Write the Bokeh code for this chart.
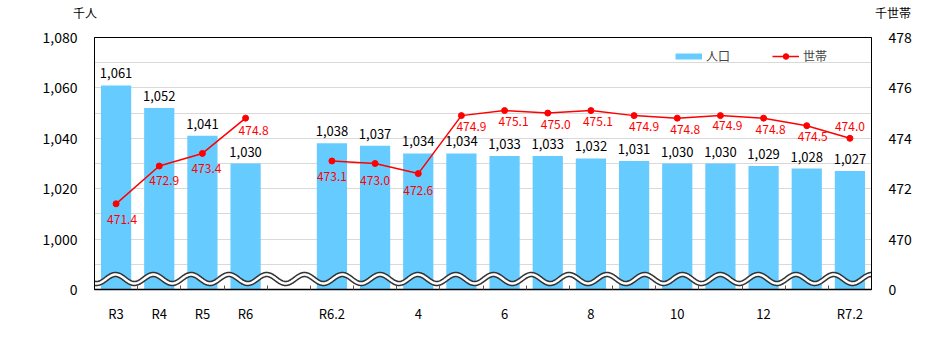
import numpy as np
from bokeh.plotting import figure
from bokeh.layouts import column
from bokeh.core.properties import value
from bokeh.models import (Range1d, LinearAxis, FixedTicker, ColumnDataSource,
                          LabelSet, Legend, LegendItem, Div)
from bokeh.embed import file_html
from bokeh.resources import INLINE

# ---- data ----
tick_labels = ["R3", "R4", "R5", "R6", "", "R6.2", "", "4", "", "6", "", "8",
               "", "10", "", "12", "", "R7.2"]
population = [1061, 1052, 1041, 1030, None, 1038, 1037, 1034, 1034, 1033, 1033,
              1032, 1031, 1030, 1030, 1029, 1028, 1027]
households = [471.4, 472.9, 473.4, 474.8, None, 473.1, 473.0, 472.6, 474.9, 475.1,
              475.0, 475.1, 474.9, 474.8, 474.9, 474.8, 474.5, 474.0]
left_ticks = [980, 1000, 1020, 1040, 1060, 1080]
left_tick_text = ["0", "1,000", "1,020", "1,040", "1,060", "1,080"]
right_ticks = [468, 470, 472, 474, 476, 478]
right_tick_text = ["0", "470", "472", "474", "476", "478"]
unit_left = "千人"
unit_right = "千世帯"

# label placement (pixels) for household labels
hh_dx = [6, 5, 4, 8, 0, 0, 0, 0, 10, 9, 8, 7, 10, 8, 7, 7, 6, 0]
hh_dy = [-16, -14, -15, -12, 0, -16, -17, -17, -11, -11, -11, -11, -11, -11, -10, -11, -11, 12]

FONT = "Noto Sans CJK JP"
BLUE = "#66CCFF"
RED = "#FF0000"
W, H_HEAD, H_MAIN = 932, 27, 326

n = len(tick_labels)
xs = [i + 0.5 for i in range(n)]

bar_idx = [i for i, v in enumerate(population) if v is not None]
bar_src = ColumnDataSource(dict(
    x=[xs[i] for i in bar_idx],
    top=[population[i] for i in bar_idx],
    text=[f"{population[i]:,}" for i in bar_idx],
))

hh_idx = [i for i, v in enumerate(households) if v is not None]
line_src = ColumnDataSource(dict(
    x=xs,
    y=[np.nan if v is None else v for v in households],
))
hh_lab_src = ColumnDataSource(dict(
    x=[xs[i] for i in hh_idx],
    y=[households[i] for i in hh_idx],
    text=[f"{households[i]:.1f}" for i in hh_idx],
    dx=[hh_dx[i] for i in hh_idx],
    dy=[hh_dy[i] for i in hh_idx],
))

# ---- header strip with unit captions ----
head_html = (
    f'<div style="position:relative;width:{W}px;height:{H_HEAD}px;'
    f"font-family:'{FONT}';font-size:12px;color:#000;line-height:14px;\">"
    f'<span style="position:absolute;left:73px;top:6px;white-space:nowrap;">{unit_left}</span>'
    f'<span style="position:absolute;left:875px;top:6px;white-space:nowrap;">{unit_right}</span>'
    '</div>'
)
head = Div(text=head_html, width=W, height=H_HEAD, margin=0)

# ---- main chart ----
p = figure(width=W, height=H_MAIN, output_backend="svg", toolbar_location=None,
           x_range=Range1d(0, n), y_range=Range1d(980, 1080),
           min_border_left=94, min_border_right=61, min_border_top=10,
           min_border_bottom=64, margin=0)
p.extra_y_ranges = {"right": Range1d(468, 478)}
p.background_fill_color = "white"
p.border_fill_color = "white"
p.outline_line_color = "black"
p.outline_line_width = 1

# axes
p.xaxis.ticker = FixedTicker(ticks=[xs[i] for i, t in enumerate(tick_labels) if t],
                             minor_ticks=list(range(1, n)))
p.xaxis.major_label_overrides = {xs[i]: t for i, t in enumerate(tick_labels) if t}
p.xaxis.major_tick_line_color = None
p.xaxis.minor_tick_in = 4
p.xaxis.minor_tick_out = 0
p.xaxis.minor_tick_line_color = "#555555"
p.xaxis.axis_line_color = "black"
p.xaxis.axis_line_width = 1.5
p.xaxis.major_label_text_font = FONT
p.xaxis.major_label_text_font_size = "13px"
p.xaxis.major_label_text_color = "black"
p.xaxis.major_label_standoff = 8

p.yaxis.ticker = FixedTicker(ticks=left_ticks)
p.yaxis.major_label_overrides = dict(zip(left_ticks, left_tick_text))
p.yaxis.major_tick_line_color = None
p.yaxis.minor_tick_line_color = None
p.yaxis.axis_line_color = "black"
p.yaxis.major_label_text_font = FONT
p.yaxis.major_label_text_font_size = "14px"
p.yaxis.major_label_text_color = "black"
p.yaxis.major_label_standoff = 11

ry = LinearAxis(y_range_name="right", ticker=FixedTicker(ticks=right_ticks),
                major_label_overrides=dict(zip(right_ticks, right_tick_text)))
ry.major_tick_line_color = None
ry.minor_tick_line_color = None
ry.axis_line_color = "black"
ry.major_label_text_font = FONT
ry.major_label_text_font_size = "14px"
ry.major_label_text_color = "black"
ry.major_label_standoff = 11
p.add_layout(ry, "right")

p.xgrid.visible = False
p.ygrid.ticker = FixedTicker(ticks=list(range(990, 1080, 10)))
p.ygrid.grid_line_color = "#D9D9D9"
p.ygrid.grid_line_width = 1

# bars
p.vbar(x="x", top="top", bottom=980, width=0.7, source=bar_src,
       fill_color=BLUE, line_color=None)

# broken-axis wave (decoration)
px_per_unit = 252 / 100.0
slot_px = 777 / n
wx = np.linspace(0, n, 900)
period = 37.8 / slot_px
phase0 = 21 / slot_px
wy = 980 + (10.5 + 4.5 * np.cos(2 * np.pi * (wx - phase0) / period)) / px_per_unit
p.line(wx, wy, line_color="#333333", line_width=5.5)
p.line(wx, wy, line_color="white", line_width=2.5)

# households line
ln = p.line("x", "y", source=line_src, y_range_name="right", line_color=RED, line_width=1.5)
sc = p.scatter("x", "y", source=line_src, y_range_name="right", size=6,
               fill_color=RED, line_color=RED)

# legend
dummy = p.line(x=[np.nan, np.nan], y=[np.nan, np.nan], line_color=BLUE, line_width=6)
legend = Legend(items=[LegendItem(label="人口", renderers=[dummy]),
                       LegendItem(label="世帯", renderers=[ln, sc])],
                orientation="horizontal", location=(581, 225),
                padding=0, margin=0, spacing=42, glyph_width=27, glyph_height=14,
                label_height=14, label_standoff=4,
                label_text_font=FONT, label_text_font_size="12px",
                border_line_color=None, background_fill_alpha=0)
p.add_layout(legend)

# labels
p.add_layout(LabelSet(x="x", y="top", text="text", source=bar_src,
                      y_offset=12, text_align="center", text_baseline="middle",
                      text_font=value(FONT), text_font_size=value("13px"),
                      text_color="black"))
p.add_layout(LabelSet(x="x", y="y", text="text", source=hh_lab_src,
                      y_range_name="right", x_offset="dx", y_offset="dy",
                      text_align="center", text_baseline="middle",
                      text_font=value(FONT), text_font_size=value("12px"),
                      text_color=RED))

layout = column(head, p, spacing=0)
open("out.html", "w").write(file_html(layout, INLINE))
